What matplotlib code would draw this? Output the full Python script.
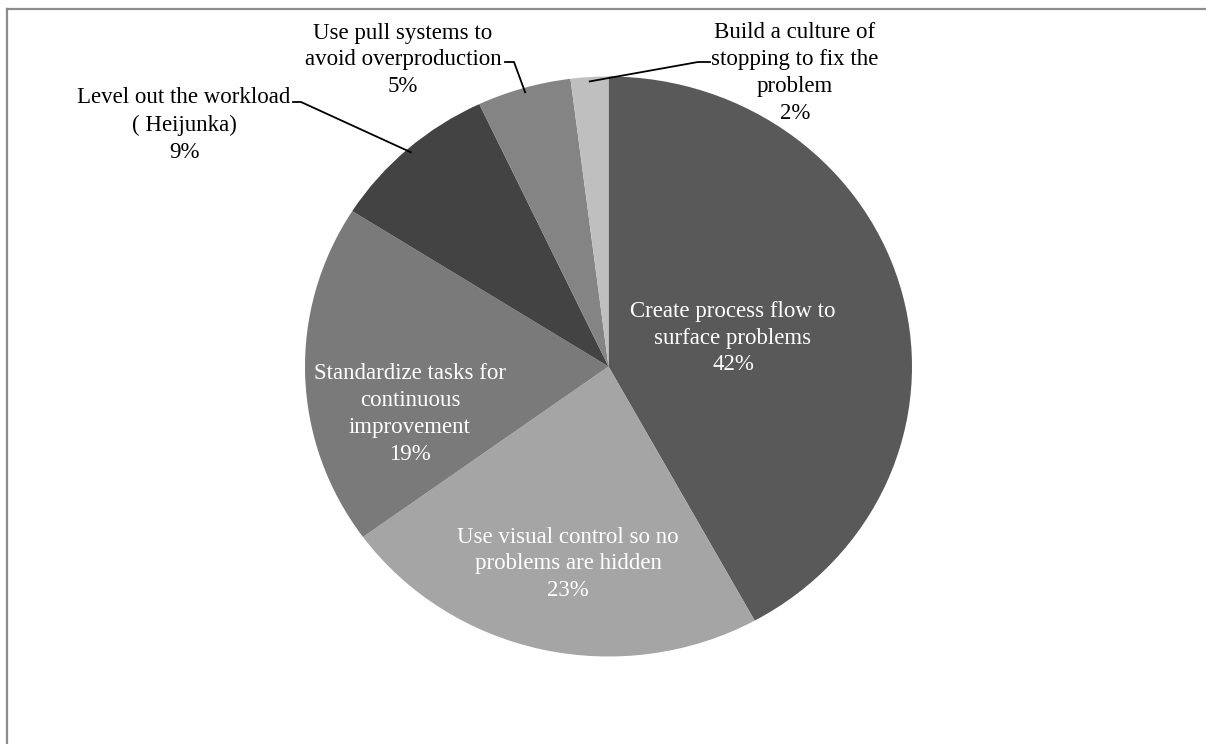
import numpy as np
import matplotlib.pyplot as plt
from matplotlib.lines import Line2D

W, H = 1206, 744

labels = [
    "Create process flow to\nsurface problems",
    "Use visual control so no\nproblems are hidden",
    "Standardize tasks for\ncontinuous\nimprovement",
    "Level out the workload\n( Heijunka)",
    "Use pull systems to\navoid overproduction",
    "Build a culture of\nstopping to fix the\nproblem",
]
shares = [42, 23, 19, 9, 5, 2]
colors = ["#595959", "#a5a5a5", "#7a7a7a", "#434343", "#848484", "#bfbfbf"]

# label anchor (centre of text block) in pixels, and whether it sits inside the pie
label_pos = [(733, 338), (568, 564), (410, 414), (184, 125), (403, 60), (795, 73)]
inside = [True, True, True, False, False, False]
# leader line: text end point and elbow, in pixels (outside labels only)
leaders = {3: [(293, 102), (301, 102)], 4: [(505, 62), (514, 62)], 5: [(710, 62), (698, 62)]}

plt.rcParams["font.family"] = ["Liberation Serif", "DejaVu Serif"]

fig = plt.figure(figsize=(W / 100, H / 100), dpi=100)

cx, cy, rx, ry = 608.5, 366.5, 303.5, 290.0
ax = fig.add_axes([(cx - rx) / W, 1 - (cy + ry) / H, 2 * rx / W, 2 * ry / H])
wedges, _ = ax.pie(shares, colors=colors, startangle=90, counterclock=False,
                   radius=1.0, wedgeprops=dict(linewidth=0))
ax.set_aspect("auto")
ax.set_xlim(-1, 1)
ax.set_ylim(-1, 1)
ax.axis("off")


def px(p):
    return (p[0] / W, 1 - p[1] / H)


for i, (lab, v) in enumerate(zip(labels, shares)):
    x, y = px(label_pos[i])
    fig.text(x, y, f"{lab}\n{v}%", ha="center", va="center", fontsize=16.5,
             color="white" if inside[i] else "black", linespacing=1.37)
    if i in leaders:
        w = wedges[i]
        mid = np.deg2rad((w.theta1 + w.theta2) / 2)
        edge = (0.985 * np.cos(mid), 0.985 * np.sin(mid))
        efig = fig.transFigure.inverted().transform(ax.transData.transform(edge))
        pts = [px(p) for p in leaders[i]] + [tuple(efig)]
        xs, ys = zip(*pts)
        fig.add_artist(Line2D(xs, ys, transform=fig.transFigure, color="black", lw=1.3))

# outer frame (only top and left edges fall inside the image)
fig.add_artist(Line2D([7 / W, 1], [1 - 8.5 / H, 1 - 8.5 / H], transform=fig.transFigure,
                      color="#8c8c8c", lw=1.6))
fig.add_artist(Line2D([7 / W, 7 / W], [0, 1 - 8.5 / H], transform=fig.transFigure,
                      color="#8c8c8c", lw=1.6))

fig.savefig("out.png", dpi=100)
